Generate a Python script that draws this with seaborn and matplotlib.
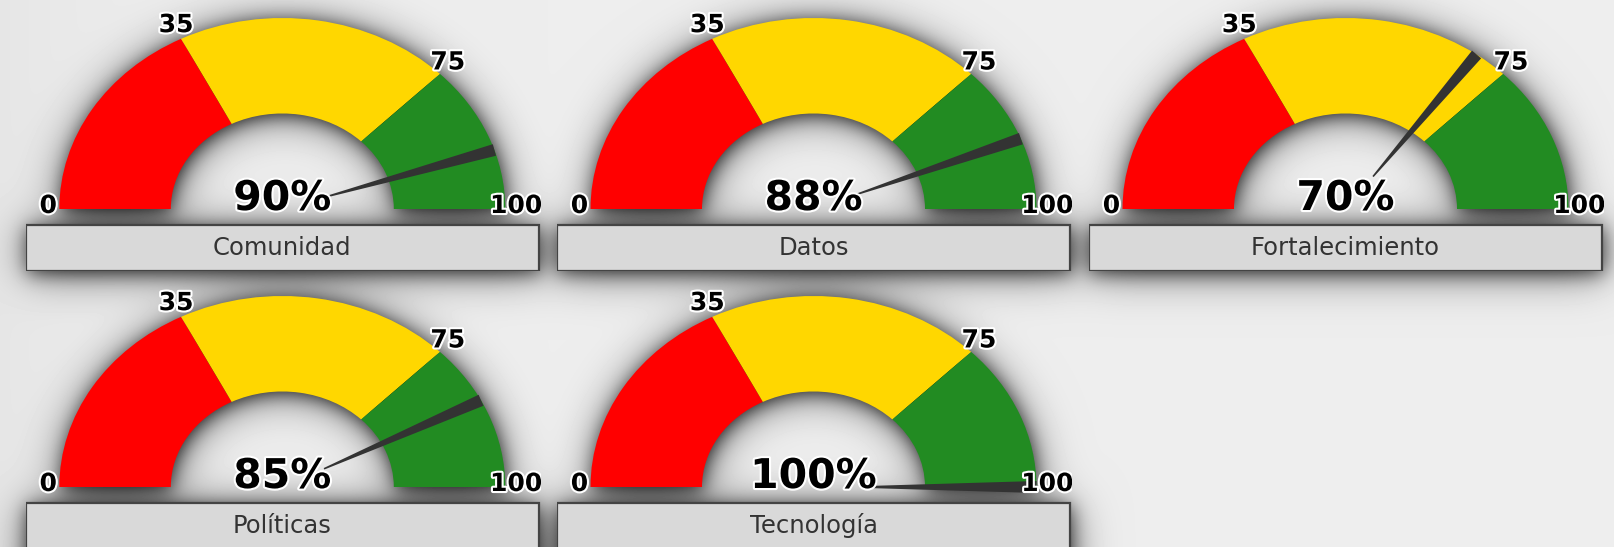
import numpy as np
import matplotlib
matplotlib.use("Agg")
import matplotlib.pyplot as plt
import matplotlib.patheffects as pe
from matplotlib.patches import Wedge, Rectangle, Polygon
import seaborn as sns

# data
categories = ["Comunidad", "Datos", "Fortalecimiento", "Políticas", "Tecnología"]
values = [90, 88, 70, 85, 100]
band_edges = [0, 35, 75, 100]
band_colors = ["#ff0000", "#ffd700", "#228b22"]
tick_labels = ["0", "35", "75", "100"]

W, H = 1615, 547
RX, RY = 223.0, 191.0      # gauge radius in pixels (the gauges are stretched)
INNER = 0.5
COL_LEFT = [25.8, 557.0, 1089.0]
ROW_BOTTOM = [209.0, 487.0]
BOX_W, CLIP_W = 513.0, 515.0


def blur(a, sigma):
    r = int(3 * sigma)
    k = np.exp(-0.5 * (np.arange(-r, r + 1) / sigma) ** 2)
    k /= k.sum()
    p = np.pad(a, ((r, r), (0, 0)), mode="edge")
    a = sum(k[i] * p[i:i + a.shape[0]] for i in range(2 * r + 1))
    p = np.pad(a, ((0, 0), (r, r)), mode="edge")
    a = sum(k[i] * p[:, i:i + a.shape[1]] for i in range(2 * r + 1))
    return a


if __name__ == "__main__":
    sns.set_theme(style="white")
    plt.rcParams["font.family"] = ["DejaVu Sans"]

    fig = plt.figure(figsize=(W / 100, H / 100), dpi=100)

    slots = []
    for i in range(len(categories)):
        left = COL_LEFT[i % 3]
        cy = ROW_BOTTOM[i // 3]
        slots.append((left, left + BOX_W / 2, cy))

    # soft drop shadow behind gauges and boxes
    yy, xx = np.mgrid[0:H, 0:W].astype(float)
    mask = np.zeros((H, W))
    ox, oy = 1, 2
    for left, cx, cy in slots:
        d = ((xx - cx - ox) / RX) ** 2 + ((yy - cy - oy) / RY) ** 2
        mask[(d <= 1) & (d >= INNER ** 2) & (yy <= cy + oy)] = 1
        mask[(xx >= left + ox) & (xx <= left + BOX_W + ox)
             & (yy >= cy + 16 + oy) & (yy <= cy + 62 + oy)] = 1
    shade = 0.93 - 0.45 * blur(mask, 9) - 0.5 * blur(mask, 22)
    shade -= 0.03 * np.exp(-xx / 120)

    bg = fig.add_axes([0, 0, 1, 1])
    bg.imshow(shade, cmap="gray", vmin=0, vmax=1, extent=(0, W, H, 0), aspect="auto")
    bg.axis("off")

    outline = [pe.withStroke(linewidth=3, foreground="white")]

    for (left, cx, cy), name, val in zip(slots, categories, values):
        ax = fig.add_axes([left / W, (H - cy - 62) / H, CLIP_W / W, 271 / H])
        ax.set_xlim((left - cx) / RX, (left + CLIP_W - cx) / RX)
        ax.set_ylim(-62 / RY, 209 / RY)
        ax.axis("off")

        for lo, hi, col in zip(band_edges[:-1], band_edges[1:], band_colors):
            t1 = 180 - hi * 1.8
            t2 = 180 - lo * 1.8
            ax.add_patch(Wedge((0, 0), 1, t1, t2, width=INNER, facecolor=col,
                               edgecolor="none", zorder=2))

        # needle
        th = np.pi * (1 - val / 100)
        ux, uy = np.cos(th), np.sin(th)
        nx, ny = -RY * uy, RX * ux
        nn = np.hypot(nx, ny)
        nx, ny = nx / nn / RX, ny / nn / RY
        s0, s1, w0, w1 = 0.21, 1.0, 0.8, 6.0
        pts = [(s0 * ux + w0 * nx, s0 * uy + w0 * ny),
               (s1 * ux + w1 * nx, s1 * uy + w1 * ny),
               (s1 * ux - w1 * nx, s1 * uy - w1 * ny),
               (s0 * ux - w0 * nx, s0 * uy - w0 * ny)]
        ax.add_patch(Polygon(pts, closed=True, facecolor="#333333",
                             edgecolor="none", zorder=3))

        # scale labels
        for edge, lab in zip(band_edges, tick_labels):
            a = np.pi * (1 - edge / 100)
            ax.annotate(lab, xy=(np.cos(a), np.sin(a)),
                        xytext=(11 * np.cos(a), 3 + 12 * np.sin(a)),
                        textcoords="offset pixels", ha="center", va="center",
                        fontsize=18, fontweight="bold", color="black",
                        path_effects=outline, zorder=5, annotation_clip=False,
                        clip_on=True)

        ax.text(0, -1 / RY, f"{val}%", ha="center", va="baseline", fontsize=29.5,
                fontweight="bold", color="black", path_effects=outline, zorder=6)

        ax.add_patch(Rectangle(((left - cx) / RX, -62 / RY), BOX_W / RX, 46 / RY,
                               facecolor="#d9d9d9", edgecolor="#444444",
                               linewidth=1.6, zorder=2))
        ax.text(0, -39 / RY, name, ha="center", va="center", fontsize=17.5,
                color="#333333", zorder=4)

    plt.savefig("out.png", dpi=100)
